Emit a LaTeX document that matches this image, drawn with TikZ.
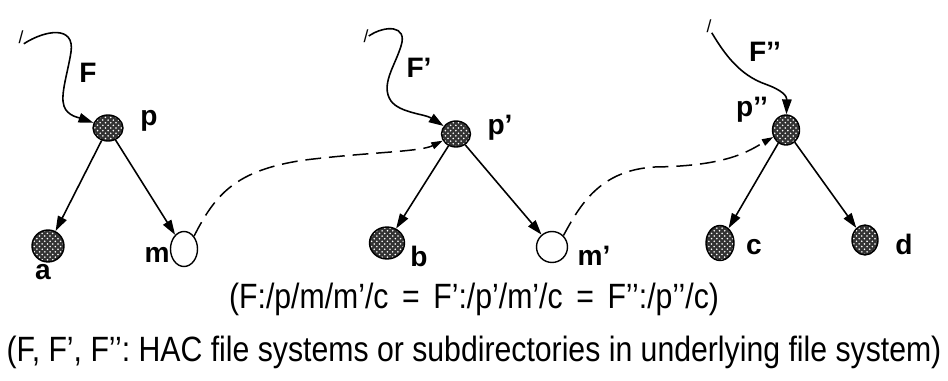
\documentclass[tikz,border=0pt]{standalone}
\usepackage{fontspec}
\setmainfont{Liberation Sans}
\usetikzlibrary{arrows.meta,shapes.geometric,patterns}

\tikzset{
  dirnode/.style={draw,ellipse,inner sep=0pt,line width=0.8pt,
    preaction={fill=black!80},pattern=crosshatch dots,pattern color=white!75},
  mountnode/.style={draw,ellipse,inner sep=0pt,line width=0.8pt,fill=white},
  lbl/.style={font=\fontsize{16}{18}\selectfont\bfseries,inner sep=0pt},
  slash/.style={font=\fontsize{10}{12}\selectfont,inner sep=0pt},
  edge/.style={-{Triangle[length=8.5pt,width=5.4pt]},line width=0.9pt},
  link/.style={-{Triangle[length=6.5pt,width=4pt]},line width=0.85pt,dash pattern=on 9pt off 4.5pt},
  caption/.style={inner sep=0pt,font=\fontsize{20}{24}\selectfont}
}

\begin{document}
\begin{tikzpicture}[x=0.02cm,y=-0.02cm]
  \useasboundingbox (0,0) rectangle (948,381);

  % first tree
  \node[slash] (rootF) at (21,37) {/};
  \node[dirnode,minimum width=0.6cm,minimum height=0.52cm] (p) at (108,128) {};
  \node[dirnode,minimum width=0.64cm,minimum height=0.64cm] (a) at (48,246) {};
  \node[mountnode,minimum width=0.54cm,minimum height=0.7cm] (m) at (184,249) {};
  \node[lbl] (lblF) at (88,73) {F};
  \node[lbl] (lblp) at (149,121) {p};
  \node[lbl] (lbla) at (43,272) {a};
  \node[lbl] (lblm) at (157,255) {m};

  % second tree
  \node[slash] (rootFp) at (366,36) {/};
  \node[dirnode,minimum width=0.58cm,minimum height=0.52cm] (pp) at (456,134) {};
  \node[dirnode,minimum width=0.7cm,minimum height=0.64cm] (b) at (387,243) {};
  \node[mountnode,minimum width=0.62cm,minimum height=0.62cm] (mp) at (552,247) {};
  \node[lbl] (lblFp) at (419,68) {F’};
  \node[lbl] (lblpp) at (500,128) {p’};
  \node[lbl] (lblb) at (419,256) {b};
  \node[lbl] (lblmp) at (594,256) {m’};

  % third tree
  \node[slash] (rootFpp) at (709,26) {/};
  \node[dirnode,minimum width=0.54cm,minimum height=0.6cm] (ppp) at (786,130) {};
  \node[dirnode,minimum width=0.56cm,minimum height=0.7cm] (c) at (720,243) {};
  \node[dirnode,minimum width=0.52cm,minimum height=0.6cm] (d) at (865,240) {};
  \node[lbl] (lblFpp) at (765,52) {F’’};
  \node[lbl] (lblppp) at (752,110) {p’’};
  \node[lbl] (lblc) at (754,247) {c};
  \node[lbl] (lbld) at (904,244) {d};

  % mount points
  \draw[edge] (rootF.south east) .. controls (45,30) and (75,25) .. (71,52)
    .. controls (68,72) and (60,95) .. (64,106) .. controls (67,116) and (80,118) .. (p);
  \draw[edge] (rootFp.east) .. controls (385,25) and (408,25) .. (401,46)
    .. controls (395,66) and (380,85) .. (391,101) .. controls (400,113) and (425,114) .. (pp);
  \draw[edge] (rootFpp.south east) .. controls (725,55) and (740,75) .. (765,84)
    .. controls (782,90) and (787,96) .. (ppp);

  % children
  \draw[edge] (p) -- (a);
  \draw[edge] (p) -- (m);
  \draw[edge] (pp) -- (b);
  \draw[edge] (pp) -- (mp);
  \draw[edge] (ppp) -- (c);
  \draw[edge] (ppp) -- (d);

  % links between file systems
  \draw[link] (m.north east) .. controls (215,195) and (235,170) .. (305,160)
    .. controls (370,152) and (420,152) .. (pp);
  \draw[link] (mp.north east) .. controls (580,205) and (600,170) .. (655,167)
    .. controls (730,166) and (750,150) .. (ppp);

  \node[caption] (path) at (474,299)
    {\scalebox{0.86}[1]{(F:/p/m/m’/c\hspace{0.45em}=\hspace{0.45em}F’:/p’/m’/c\hspace{0.45em}=\hspace{0.45em}F’’:/p’’/c)}};
  \node[caption] (note) at (474,352)
    {\scalebox{0.86}[1]{(F, F’, F’’: HAC file systems or subdirectories in underlying file system)}};
\end{tikzpicture}
\end{document}
